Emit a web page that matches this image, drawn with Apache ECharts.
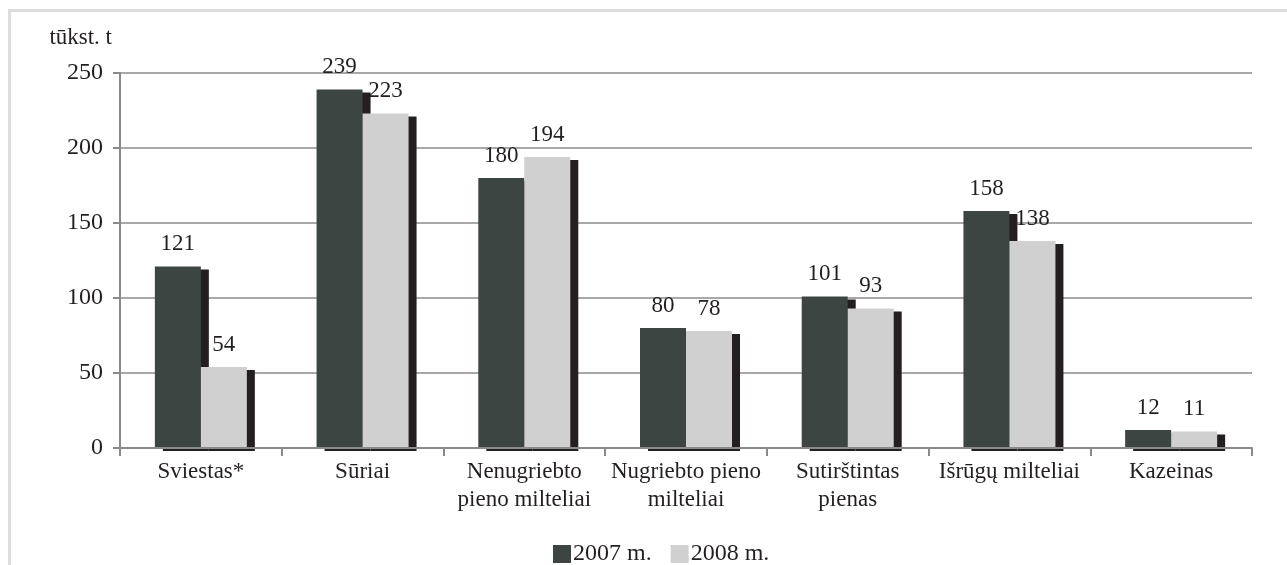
<!DOCTYPE html>
<html>
<head>
<meta charset="utf-8">
<script src="https://cdn.jsdelivr.net/npm/echarts@6/dist/echarts.min.js"></script>
<style>
  html, body { margin: 0; padding: 0; background: #fff; }
  #frame { position: absolute; left: 8px; top: 9px; width: 1279px; height: 556px;
    border-left: 3px solid #dcdcdc; border-top: 3px solid #dcdcdc; }
  #main { position: absolute; left: 0; top: 0; width: 1287px; height: 565px; }
</style>
</head>
<body>
<div id="frame"></div>
<div id="main"></div>
<script>
var categories = ['Sviestas*', 'Sūriai', 'Nenugriebto\npieno milteliai', 'Nugriebto pieno\nmilteliai', 'Sutirštintas\npienas', 'Išrūgų milteliai', 'Kazeinas'];
var values2007 = [121, 239, 180, 80, 101, 158, 12];
var values2008 = [54, 223, 194, 78, 93, 138, 11];
var seriesNames = ['2007 m.', '2008 m.'];
var yTicks = [0, 50, 100, 150, 200, 250];

var myChart = echarts.init(document.getElementById('main'));
var serif = 'Liberation Serif';
var textColor = '#231f20';

//柱子样式（带黑色阴影）
function barStyle (color) {
  return {
    color: color,
    shadowColor: '#231f20',
    shadowBlur: 0,
    shadowOffsetX: 8,
    shadowOffsetY: 3
  };
}

var option = {
  animation: false,
  textStyle: { fontFamily: serif },
  grid: { left: 120, right: 35, top: 73, bottom: 117 },
  legend: {
    data: seriesNames,
    left: 548,
    top: 537,
    itemWidth: 18,
    itemHeight: 18,
    itemGap: 19,
    icon: 'rect',
    textStyle: { fontFamily: serif, fontSize: 24, color: textColor, padding: [0, 0, 0, -3] }
  },
  xAxis: {
    type: 'category',
    data: categories,
    z: 5,
    axisLine: { lineStyle: { color: '#8a8a8a', width: 2 } },
    axisTick: { show: true, length: 8, lineStyle: { color: '#8a8a8a', width: 2 } },
    axisLabel: { fontFamily: serif, fontSize: 23, color: textColor, margin: 10, lineHeight: 28, interval: 0 }
  },
  yAxis: {
    type: 'value',
    min: 0,
    max: 250,
    interval: 50,
    name: 'tūkst. t',
    nameGap: 24,
    nameTextStyle: { fontFamily: serif, fontSize: 23, color: textColor, align: 'right', padding: [0, 8, 0, 0] },
    axisLine: { show: true, lineStyle: { color: '#8a8a8a', width: 2 } },
    axisTick: { show: true, length: 7, lineStyle: { color: '#8a8a8a', width: 2 } },
    axisLabel: {
      fontFamily: serif, fontSize: 24, color: textColor, margin: 17,
      formatter: function (v) { return yTicks.indexOf(v) >= 0 ? String(v) : ''; }
    },
    splitLine: { lineStyle: { color: '#a8a8a8', width: 2 } }
  },
  series: [
    {
      name: seriesNames[0],
      type: 'bar',
      data: values2007,
      barWidth: 46,
      barGap: '0%',
      itemStyle: barStyle('#3d4543'),
      label: { show: true, position: 'top', distance: 11, fontFamily: serif, fontSize: 23, color: textColor }
    },
    {
      name: seriesNames[1],
      type: 'bar',
      data: values2008,
      barWidth: 46,
      barGap: '0%',
      itemStyle: barStyle('#d0d0d0'),
      label: { show: true, position: 'top', distance: 11, fontFamily: serif, fontSize: 23, color: textColor }
    }
  ]
};

myChart.setOption(option);
</script>
</body>
</html>
